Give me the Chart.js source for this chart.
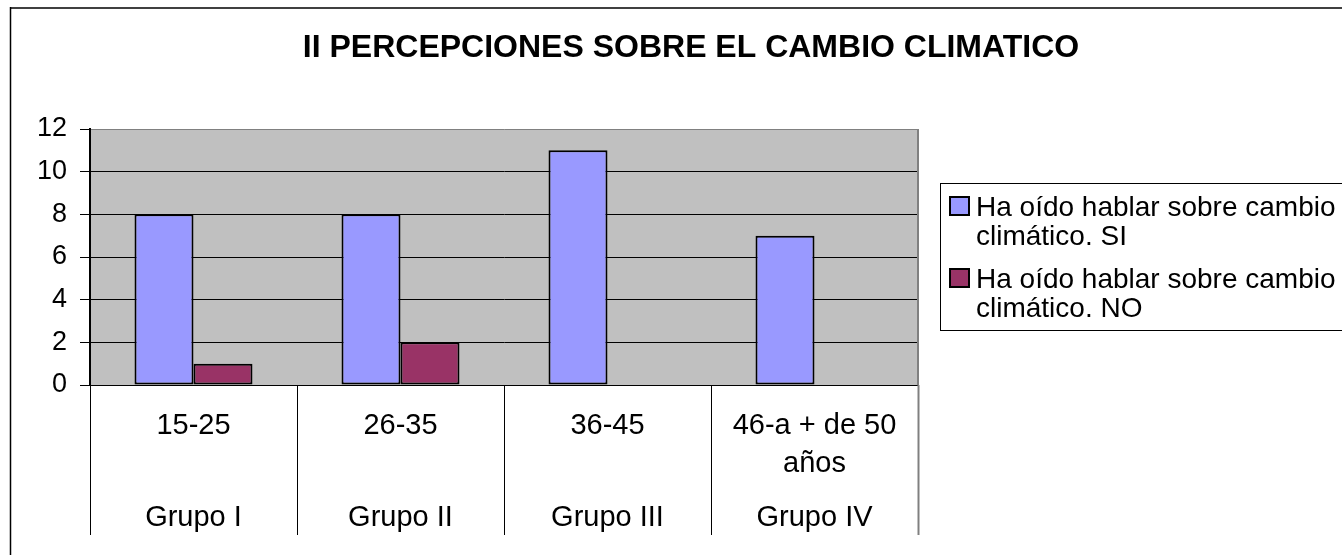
<!DOCTYPE html>
<html>
<head>
<meta charset="utf-8">
<script src="https://cdn.jsdelivr.net/npm/chart.js@4.4.1/dist/chart.umd.min.js"></script>
<style>
  body { margin: 0; background: #fff; }
  #wrap { width: 1342px; height: 555px; }
</style>
</head>
<body>
<div id="wrap"><canvas id="chart" width="1342" height="555"></canvas></div>
<script>
// Chart data
const chartTitle = 'II PERCEPCIONES SOBRE EL CAMBIO CLIMATICO';
const ageRanges = [['15-25'], ['26-35'], ['36-45'], ['46-a + de 50', 'años']];
const groups = ['Grupo I', 'Grupo II', 'Grupo III', 'Grupo IV'];
const seriesNames = [
    ['Ha oído hablar sobre cambio', 'climático. SI'],
    ['Ha oído hablar sobre cambio', 'climático. NO']
];
const siValues = [8, 8, 11, 7];
const noValues = [1, 2, null, null];
const yTicks = [0, 2, 4, 6, 8, 10, 12];

const colors = {
    si: '#9999ff',
    no: '#993366',
    plot: '#c0c0c0',
    frame: '#808080'
};
const fontFamily = '"Liberation Sans", Arial, sans-serif';

// Excel style frame, category labels, legend and title
const excelLook = {
    id: 'excelLook',
    beforeDraw(chart) {
        const { ctx, chartArea: a } = chart;
        ctx.save();
        ctx.fillStyle = '#fff';
        ctx.fillRect(0, 0, chart.width, chart.height);

        // outer chart border
        ctx.strokeStyle = '#404040';
        ctx.lineWidth = 2;
        ctx.beginPath();
        ctx.moveTo(10, 8);
        ctx.lineTo(chart.width, 8);
        ctx.stroke();
        ctx.strokeStyle = '#000';
        ctx.lineWidth = 1.5;
        ctx.beginPath();
        ctx.moveTo(10.5, 7);
        ctx.lineTo(10.5, chart.height);
        ctx.stroke();

        // plot area fill
        ctx.fillStyle = colors.plot;
        ctx.fillRect(a.left, a.top, a.right - a.left, a.bottom - a.top);
        ctx.restore();
    },
    afterDraw(chart) {
        const { ctx, chartArea: a } = chart;
        const x = chart.scales.x;
        const n = groups.length;
        ctx.save();

        // plot right border
        ctx.strokeStyle = colors.frame;
        ctx.lineWidth = 2;
        ctx.beginPath();
        ctx.moveTo(a.right, a.top);
        ctx.lineTo(a.right, a.bottom);
        ctx.stroke();

        // category dividers
        const bounds = [];
        for (let i = 0; i <= n; i++) {
            if (i === 0) bounds.push(a.left);
            else if (i === n) bounds.push(a.right);
            else bounds.push((x.getPixelForValue(i - 1) + x.getPixelForValue(i)) / 2);
        }
        bounds.forEach((bx, i) => {
            ctx.strokeStyle = i === n ? colors.frame : '#000';
            ctx.lineWidth = i === n ? 2 : 1;
            ctx.beginPath();
            ctx.moveTo(Math.round(bx) + 0.5, a.bottom);
            ctx.lineTo(Math.round(bx) + 0.5, 535);
            ctx.stroke();
        });

        // category labels (two levels)
        ctx.fillStyle = '#000';
        ctx.font = '29px ' + fontFamily;
        ctx.textAlign = 'center';
        ctx.textBaseline = 'alphabetic';
        groups.forEach((g, i) => {
            const cx = x.getPixelForValue(i);
            ageRanges[i].forEach((line, j) => {
                ctx.fillText(line, cx, 434 + j * 38);
            });
            ctx.fillText(g, cx, 526);
        });

        // legend
        ctx.strokeStyle = '#000';
        ctx.lineWidth = 1;
        ctx.strokeRect(940.5, 183.5, chart.width, 147);
        ctx.font = '28px ' + fontFamily;
        ctx.textAlign = 'left';
        chart.data.datasets.forEach((ds, i) => {
            const top = 197 + i * 72;
            ctx.fillStyle = ds.backgroundColor;
            ctx.fillRect(950, top, 19, 18);
            ctx.strokeStyle = '#000';
            ctx.lineWidth = 2;
            ctx.strokeRect(950, top, 19, 18);
            ctx.fillStyle = '#000';
            seriesNames[i].forEach((line, j) => {
                ctx.fillText(line, 976, 216 + i * 72 + j * 29);
            });
        });

        // title
        ctx.font = 'bold 32px ' + fontFamily;
        ctx.textAlign = 'center';
        ctx.fillText(chartTitle, 691, 57);
        ctx.restore();
    }
};

const ctx = document.getElementById('chart').getContext('2d');
new Chart(ctx, {
    type: 'bar',
    data: {
        labels: groups,
        datasets: [
            {
                label: seriesNames[0].join(' '),
                data: siValues,
                backgroundColor: colors.si,
                borderColor: '#000',
                borderWidth: 2,
                borderSkipped: false
            },
            {
                label: seriesNames[1].join(' '),
                data: noValues,
                backgroundColor: colors.no,
                borderColor: '#000',
                borderWidth: 2,
                borderSkipped: false
            }
        ]
    },
    options: {
        responsive: false,
        animation: false,
        layout: {
            padding: { top: 129, bottom: 170, left: 0, right: 424 }
        },
        datasets: {
            bar: {
                categoryPercentage: 0.57,
                barPercentage: 1
            }
        },
        plugins: {
            legend: { display: false },
            title: { display: false },
            tooltip: { enabled: false }
        },
        scales: {
            x: {
                display: false
            },
            y: {
                min: 0,
                max: 12,
                afterFit: (scale) => { scale.width = 90; },
                afterBuildTicks: (scale) => {
                    scale.ticks = yTicks.map(v => ({ value: v }));
                },
                ticks: {
                    color: '#000',
                    padding: 13,
                    font: { family: fontFamily, size: 27 }
                },
                grid: {
                    color: (c) => c.tick && c.tick.value === 12 ? colors.frame : '#000',
                    lineWidth: 1,
                    tickLength: 10,
                    tickColor: '#000'
                },
                border: {
                    display: true,
                    color: '#000',
                    width: 2
                }
            }
        }
    },
    plugins: [excelLook]
});
</script>
</body>
</html>
